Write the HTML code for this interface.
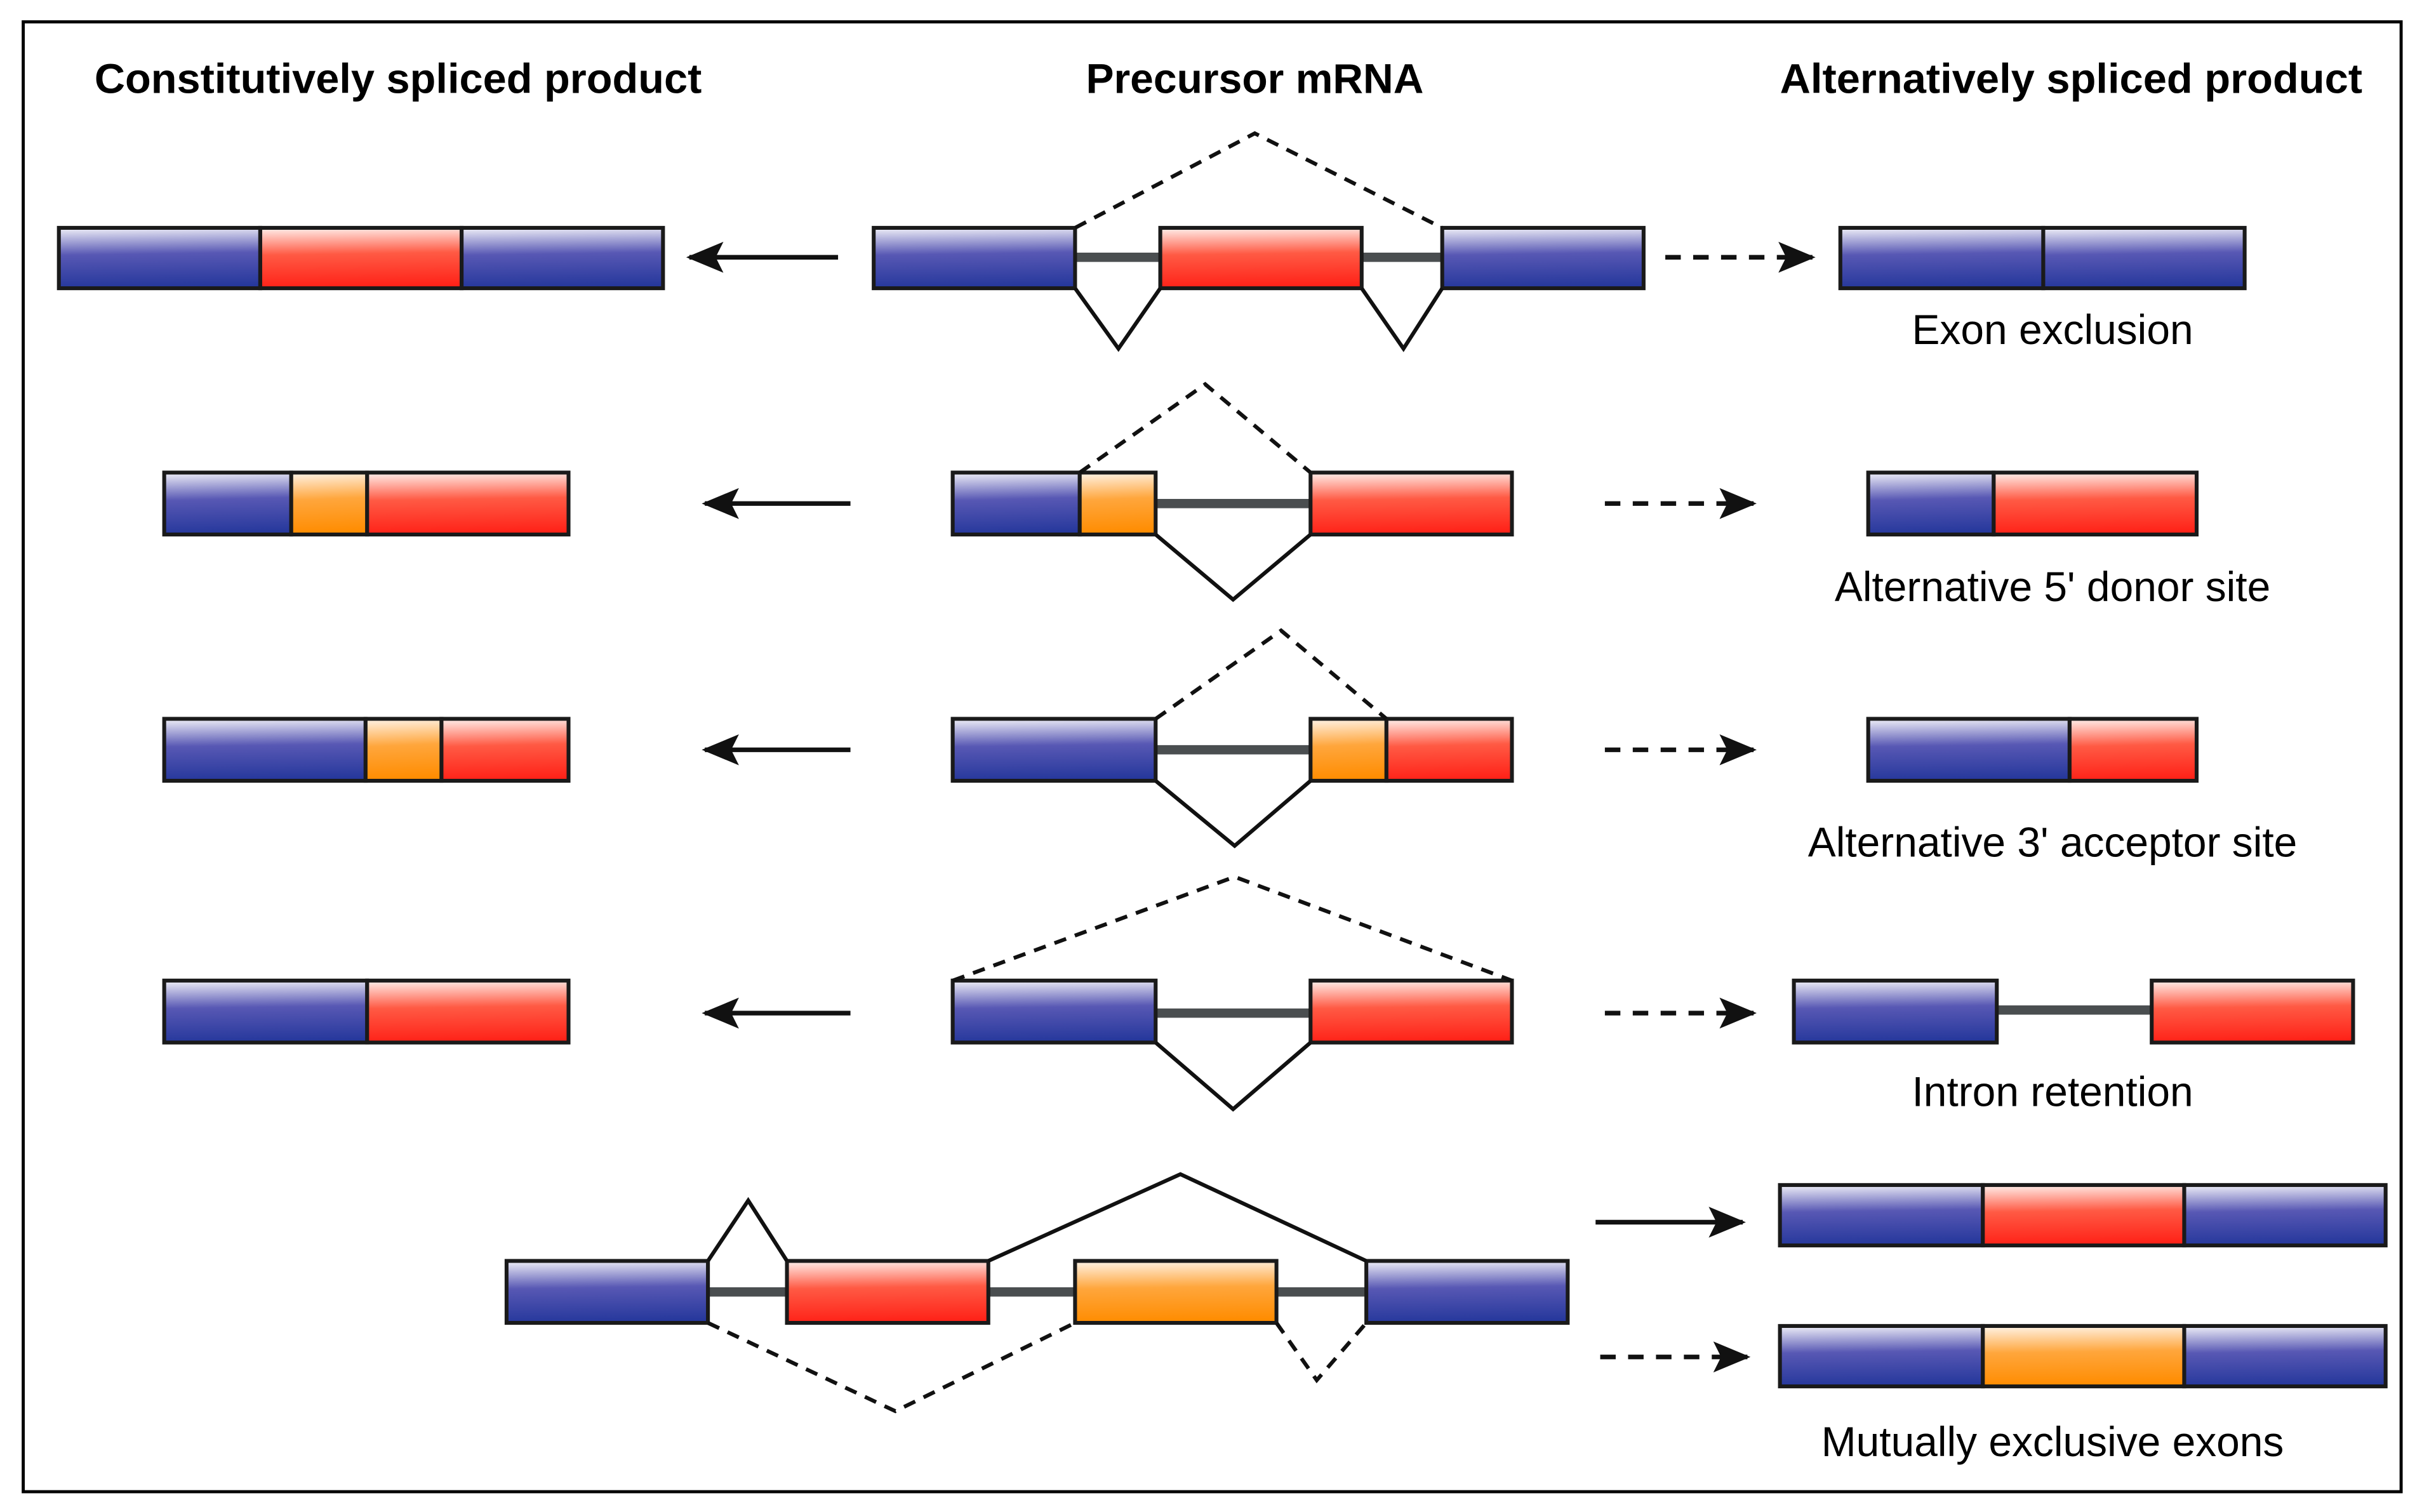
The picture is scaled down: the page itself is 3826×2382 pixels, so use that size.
<!DOCTYPE html>
<html><head><meta charset="utf-8"><style>
html,body{margin:0;padding:0;background:#fff}
svg{display:block}
text{font-family:"Liberation Sans",Arial,sans-serif;fill:#000}
</style></head><body>
<svg width="3826" height="2382" viewBox="0 0 1568 976" xmlns="http://www.w3.org/2000/svg">
<defs>
<linearGradient id="b" x1="0" y1="0" x2="0.05" y2="1"><stop offset="0" stop-color="#f0f0f8"/><stop offset="0.45" stop-color="#5858b4"/><stop offset="1" stop-color="#26389c"/></linearGradient>
<linearGradient id="r" x1="0" y1="0" x2="0.05" y2="1"><stop offset="0" stop-color="#fff0ec"/><stop offset="0.45" stop-color="#ff5a44"/><stop offset="1" stop-color="#ff2218"/></linearGradient>
<linearGradient id="o" x1="0" y1="0" x2="0.05" y2="1"><stop offset="0" stop-color="#fff4e8"/><stop offset="0.45" stop-color="#ffa63c"/><stop offset="1" stop-color="#ff8c00"/></linearGradient>
<marker id="ah" viewBox="0 0 24 20" refX="22" refY="10" markerWidth="24" markerHeight="20" markerUnits="userSpaceOnUse" orient="auto"><path d="M0,0 L24,10 L0,20 L5,10 Z" fill="#111"/></marker>
</defs>
<rect x="15" y="14" width="1535" height="949" fill="#fff" stroke="#000" stroke-width="2"/>
<g font-weight="bold" font-size="27" text-anchor="middle">
<text x="257" y="60" textLength="392" lengthAdjust="spacingAndGlyphs">Constitutively spliced product</text>
<text x="810" y="60" textLength="218" lengthAdjust="spacingAndGlyphs">Precursor mRNA</text>
<text x="1337" y="60" textLength="376" lengthAdjust="spacingAndGlyphs">Alternatively spliced product</text>
</g>
<g font-size="27" text-anchor="middle">
<text x="1325" y="222">Exon exclusion</text>
<text x="1325" y="388">Alternative 5' donor site</text>
<text x="1325" y="553">Alternative 3' acceptor site</text>
<text x="1325" y="714">Intron retention</text>
<text x="1325" y="940">Mutually exclusive exons</text>
</g>
<g stroke="#4a4e50" stroke-width="6">
<line x1="694" y1="166" x2="749" y2="166"/><line x1="879" y1="166" x2="931" y2="166"/>
<line x1="746" y1="325" x2="846" y2="325"/>
<line x1="746" y1="484" x2="846" y2="484"/>
<line x1="746" y1="654" x2="846" y2="654"/>
<line x1="1289" y1="652" x2="1389" y2="652"/>
<line x1="457" y1="834" x2="508" y2="834"/><line x1="638" y1="834" x2="694" y2="834"/><line x1="824" y1="834" x2="882" y2="834"/>
</g>
<g stroke="#1a1a1a" stroke-width="2.5">
<rect x="38" y="147" width="130" height="39" fill="url(#b)"/><rect x="168" y="147" width="130" height="39" fill="url(#r)"/><rect x="298" y="147" width="130" height="39" fill="url(#b)"/>
<rect x="564" y="147" width="130" height="39" fill="url(#b)"/><rect x="749" y="147" width="130" height="39" fill="url(#r)"/><rect x="931" y="147" width="130" height="39" fill="url(#b)"/>
<rect x="1188" y="147" width="131" height="39" fill="url(#b)"/><rect x="1319" y="147" width="130" height="39" fill="url(#b)"/>
<rect x="106" y="305" width="82" height="40" fill="url(#b)"/><rect x="188" y="305" width="49" height="40" fill="url(#o)"/><rect x="237" y="305" width="130" height="40" fill="url(#r)"/>
<rect x="615" y="305" width="82" height="40" fill="url(#b)"/><rect x="697" y="305" width="49" height="40" fill="url(#o)"/><rect x="846" y="305" width="130" height="40" fill="url(#r)"/>
<rect x="1206" y="305" width="81" height="40" fill="url(#b)"/><rect x="1287" y="305" width="131" height="40" fill="url(#r)"/>
<rect x="106" y="464" width="130" height="40" fill="url(#b)"/><rect x="236" y="464" width="49" height="40" fill="url(#o)"/><rect x="285" y="464" width="82" height="40" fill="url(#r)"/>
<rect x="615" y="464" width="131" height="40" fill="url(#b)"/><rect x="846" y="464" width="49" height="40" fill="url(#o)"/><rect x="895" y="464" width="81" height="40" fill="url(#r)"/>
<rect x="1206" y="464" width="130" height="40" fill="url(#b)"/><rect x="1336" y="464" width="82" height="40" fill="url(#r)"/>
<rect x="106" y="633" width="131" height="40" fill="url(#b)"/><rect x="237" y="633" width="130" height="40" fill="url(#r)"/>
<rect x="615" y="633" width="131" height="40" fill="url(#b)"/><rect x="846" y="633" width="130" height="40" fill="url(#r)"/>
<rect x="1158" y="633" width="131" height="40" fill="url(#b)"/><rect x="1389" y="633" width="130" height="40" fill="url(#r)"/>
<rect x="327" y="814" width="130" height="40" fill="url(#b)"/><rect x="508" y="814" width="130" height="40" fill="url(#r)"/><rect x="694" y="814" width="130" height="40" fill="url(#o)"/><rect x="882" y="814" width="130" height="40" fill="url(#b)"/>
<rect x="1149" y="765" width="131" height="39" fill="url(#b)"/><rect x="1280" y="765" width="130" height="39" fill="url(#r)"/><rect x="1410" y="765" width="130" height="39" fill="url(#b)"/>
<rect x="1149" y="856" width="131" height="39" fill="url(#b)"/><rect x="1280" y="856" width="130" height="39" fill="url(#o)"/><rect x="1410" y="856" width="130" height="39" fill="url(#b)"/>
</g>
<g fill="none" stroke="#111" stroke-width="2.5">
<polyline points="694,186 722,225 749,186"/><polyline points="879,186 906,225 931,186"/>
<polyline points="746,345 796,387 846,345"/>
<polyline points="746,504 797,546 846,504"/>
<polyline points="746,673 796,716 846,673"/>
<polyline points="457,814 483,775 508,814"/><polyline points="638,814 762,758 882,814"/>
</g>
<g fill="none" stroke="#111" stroke-width="2.5" stroke-dasharray="8,6">
<polyline points="694,147 810,86 931,147"/>
<polyline points="697,305 778,248 846,305"/>
<polyline points="746,464 827,407 895,464"/>
<polyline points="615,633 797,566 976,633"/>
<polyline points="457,854 578,911 694,854"/><polyline points="824,854 850,891 882,854"/>
</g>
<g stroke="#111" stroke-width="3" marker-end="url(#ah)">
<line x1="541" y1="166" x2="445" y2="166"/>
<line x1="549" y1="325" x2="455" y2="325"/>
<line x1="549" y1="484" x2="455" y2="484"/>
<line x1="549" y1="654" x2="455" y2="654"/>
<line x1="1030" y1="789" x2="1125" y2="789"/>
</g>
<g stroke="#111" stroke-width="3" stroke-dasharray="10,8" marker-end="url(#ah)">
<line x1="1075" y1="166" x2="1170" y2="166"/>
<line x1="1036" y1="325" x2="1132" y2="325"/>
<line x1="1036" y1="484" x2="1132" y2="484"/>
<line x1="1036" y1="654" x2="1132" y2="654"/>
<line x1="1033" y1="876" x2="1128" y2="876"/>
</g>
</svg>
</body></html>
